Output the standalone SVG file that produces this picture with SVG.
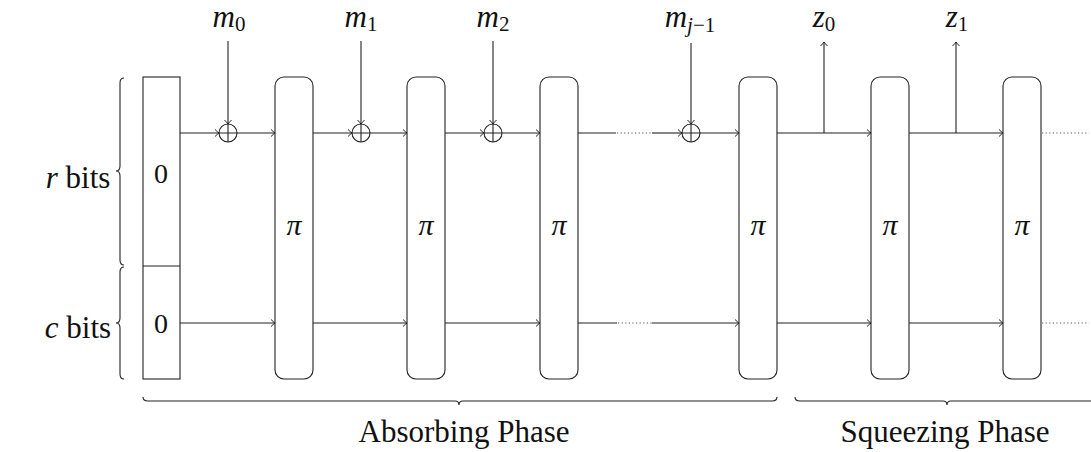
<svg xmlns="http://www.w3.org/2000/svg" width="1091" height="452" viewBox="0 0 1091 452">
<style>
.ln{fill:none;stroke:#222;stroke-width:1.1}
.dot{fill:none;stroke:#555;stroke-width:1.1;stroke-dasharray:1.2 2.4}
.box{fill:#fff;stroke:#222;stroke-width:1.1}
text{font-family:'Liberation Serif','DejaVu Serif',serif;fill:#111}
.it{font-style:italic}
</style>
<defs>
<marker id="ah" viewBox="-6 -5 8 10" markerWidth="8" markerHeight="10" refX="0" refY="0" orient="auto" markerUnits="userSpaceOnUse">
<path d="M-4,-3.5 Q-1.5,-1 0,0 Q-1.5,1 -4,3.5" fill="none" stroke="#222" stroke-width="1"/>
</marker>
</defs>
<rect width="1091" height="452" fill="#fff"/>

<g id="state">
<rect class="box" x="143" y="77" width="37" height="302"/>
<line class="ln" x1="143" y1="266" x2="180" y2="266"/>
<text x="161" y="183" font-size="28" text-anchor="middle">0</text>
<text x="161" y="333" font-size="28" text-anchor="middle">0</text>
</g>

<g id="pi1"><rect class="box" x="275" y="77" width="38" height="302" rx="9"/><text class="it" x="294" y="235" font-size="30" text-anchor="middle">π</text></g>
<g id="pi2"><rect class="box" x="407" y="77" width="38" height="302" rx="9"/><text class="it" x="426" y="235" font-size="30" text-anchor="middle">π</text></g>
<g id="pi3"><rect class="box" x="540" y="77" width="38" height="302" rx="9"/><text class="it" x="559" y="235" font-size="30" text-anchor="middle">π</text></g>
<g id="pi4"><rect class="box" x="739" y="77" width="38" height="302" rx="9"/><text class="it" x="758" y="235" font-size="30" text-anchor="middle">π</text></g>
<g id="pi5"><rect class="box" x="871" y="77" width="38" height="302" rx="9"/><text class="it" x="890" y="235" font-size="30" text-anchor="middle">π</text></g>
<g id="pi6"><rect class="box" x="1003" y="77" width="38" height="302" rx="9"/><text class="it" x="1022" y="235" font-size="30" text-anchor="middle">π</text></g>

<g id="xor1"><circle class="ln" cx="228" cy="133" r="9"/><path class="ln" d="M219,133H237M228,124V142"/></g>
<g id="xor2"><circle class="ln" cx="361" cy="133" r="9"/><path class="ln" d="M352,133H370M361,124V142"/></g>
<g id="xor3"><circle class="ln" cx="493" cy="133" r="9"/><path class="ln" d="M484,133H502M493,124V142"/></g>
<g id="xor4"><circle class="ln" cx="691" cy="133" r="9"/><path class="ln" d="M682,133H700M691,124V142"/></g>

<g id="labels">
<text class="it" x="229" y="27" font-size="31" text-anchor="middle">m<tspan font-style="normal" font-size="21" dy="4">0</tspan></text>
<text class="it" x="361" y="27" font-size="31" text-anchor="middle">m<tspan font-style="normal" font-size="21" dy="4">1</tspan></text>
<text class="it" x="493" y="27" font-size="31" text-anchor="middle">m<tspan font-style="normal" font-size="21" dy="4">2</tspan></text>
<text class="it" x="690" y="27" font-size="31" text-anchor="middle">m<tspan font-size="21" dy="5">j</tspan><tspan font-style="normal" font-size="21">−1</tspan></text>
<text class="it" x="824" y="27" font-size="31" text-anchor="middle">z<tspan font-style="normal" font-size="21" dy="4">0</tspan></text>
<text class="it" x="957" y="27" font-size="31" text-anchor="middle">z<tspan font-style="normal" font-size="21" dy="4">1</tspan></text>
<text x="78" y="188" font-size="31" text-anchor="middle"><tspan font-style="italic">r</tspan> bits</text>
<text x="78" y="338" font-size="31" text-anchor="middle"><tspan font-style="italic">c</tspan> bits</text>
<text x="464" y="442" font-size="31" text-anchor="middle">Absorbing Phase</text>
<text x="945" y="442" font-size="31" text-anchor="middle">Squeezing Phase</text>
</g>

<g id="connectors">
<line class="ln" x1="228" y1="41" x2="228" y2="124" marker-end="url(#ah)"/>
<line class="ln" x1="361" y1="41" x2="361" y2="124" marker-end="url(#ah)"/>
<line class="ln" x1="493" y1="41" x2="493" y2="124" marker-end="url(#ah)"/>
<line class="ln" x1="691" y1="43" x2="691" y2="124" marker-end="url(#ah)"/>
<line class="ln" x1="824" y1="133" x2="824" y2="42" marker-end="url(#ah)"/>
<line class="ln" x1="956" y1="133" x2="956" y2="42" marker-end="url(#ah)"/>
<line class="ln" x1="180" y1="133" x2="219" y2="133" marker-end="url(#ah)"/>
<line class="ln" x1="237" y1="133" x2="275" y2="133" marker-end="url(#ah)"/>
<line class="ln" x1="313" y1="133" x2="352" y2="133" marker-end="url(#ah)"/>
<line class="ln" x1="370" y1="133" x2="407" y2="133" marker-end="url(#ah)"/>
<line class="ln" x1="445" y1="133" x2="484" y2="133" marker-end="url(#ah)"/>
<line class="ln" x1="502" y1="133" x2="540" y2="133" marker-end="url(#ah)"/>
<line class="ln" x1="578" y1="133" x2="616" y2="133"/>
<line class="dot" x1="617" y1="133" x2="652" y2="133"/>
<line class="ln" x1="652" y1="133" x2="682" y2="133" marker-end="url(#ah)"/>
<line class="ln" x1="700" y1="133" x2="739" y2="133" marker-end="url(#ah)"/>
<line class="ln" x1="777" y1="133" x2="871" y2="133" marker-end="url(#ah)"/>
<line class="ln" x1="909" y1="133" x2="1003" y2="133" marker-end="url(#ah)"/>
<line class="dot" x1="1042" y1="133" x2="1089" y2="133"/>
<line class="ln" x1="180" y1="323" x2="275" y2="323" marker-end="url(#ah)"/>
<line class="ln" x1="313" y1="323" x2="407" y2="323" marker-end="url(#ah)"/>
<line class="ln" x1="445" y1="323" x2="540" y2="323" marker-end="url(#ah)"/>
<line class="ln" x1="578" y1="323" x2="617" y2="323"/>
<line class="dot" x1="618" y1="323" x2="652" y2="323"/>
<line class="ln" x1="652" y1="323" x2="739" y2="323" marker-end="url(#ah)"/>
<line class="ln" x1="777" y1="323" x2="871" y2="323" marker-end="url(#ah)"/>
<line class="ln" x1="909" y1="323" x2="1003" y2="323" marker-end="url(#ah)"/>
<line class="dot" x1="1042" y1="323" x2="1089" y2="323"/>
</g>

<g id="braces">
<path class="ln" d="M124,78 Q120,78 120,83 L120,166 Q120,171 116,171 Q120,171 120,176 L120,260 Q120,265 124,265"/>
<path class="ln" d="M124,267 Q120,267 120,272 L120,318 Q120,323 116,323 Q120,323 120,328 L120,374 Q120,379 124,379"/>
<path class="ln" d="M143,397 Q143,401 148,401 L455,401 Q459,401 459,405 Q459,401 463,401 L772,401 Q777,401 777,397"/>
<path class="ln" d="M795,397 Q795,401 800,401 L943,401 Q947,401 947,405 Q947,401 951,401 L1094,401 Q1099,401 1099,397"/>
</g>
</svg>
